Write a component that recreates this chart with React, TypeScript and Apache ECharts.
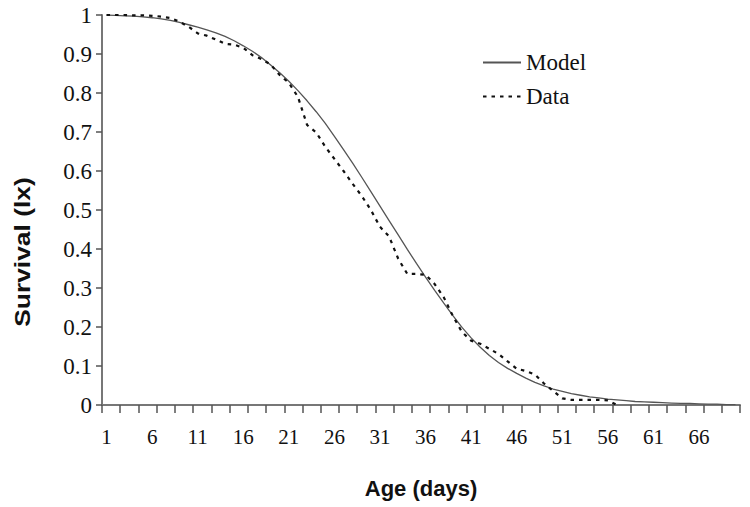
import React, { useEffect, useRef } from 'react';
import * as echarts from 'echarts';

const ages = [
  '1', '2', '3', '4', '5', '6', '7', '8', '9', '10',
  '11', '12', '13', '14', '15', '16', '17', '18', '19', '20',
  '21', '22', '23', '24', '25', '26', '27', '28', '29', '30',
  '31', '32', '33', '34', '35', '36', '37', '38', '39', '40',
  '41', '42', '43', '44', '45', '46', '47', '48', '49', '50',
  '51', '52', '53', '54', '55', '56', '57', '58', '59', '60',
  '61', '62', '63', '64', '65', '66', '67', '68', '69', '70',
];

const modelSurvival = [
  1.0, 0.999, 0.998, 0.997, 0.995, 0.993, 0.99, 0.986, 0.981, 0.975,
  0.969, 0.962, 0.954, 0.945, 0.934, 0.921, 0.907, 0.891, 0.872, 0.852,
  0.83, 0.806, 0.78, 0.752, 0.722, 0.689, 0.655, 0.62, 0.584, 0.547,
  0.51, 0.473, 0.436, 0.399, 0.363, 0.328, 0.294, 0.261, 0.229, 0.199,
  0.172, 0.148, 0.127, 0.109, 0.094, 0.081, 0.069, 0.058, 0.049, 0.041,
  0.035, 0.029, 0.025, 0.021, 0.018, 0.015, 0.013, 0.011, 0.009, 0.008,
  0.007, 0.006, 0.005, 0.004, 0.004, 0.003, 0.002, 0.002, 0.001, 0.001,
];

const dataSurvival = [
  1.0, 1.0, 1.0, 0.999, 0.999, 0.998, 0.996, 0.992, 0.983, 0.97,
  0.953, 0.947, 0.937, 0.926, 0.924, 0.916, 0.897, 0.887, 0.873, 0.846,
  0.826, 0.79, 0.718, 0.699, 0.662, 0.631, 0.6, 0.567, 0.536, 0.5,
  0.457, 0.432, 0.375, 0.336, 0.336, 0.334, 0.31, 0.276, 0.228, 0.187,
  0.165, 0.157, 0.144, 0.131, 0.112, 0.093, 0.087, 0.078, 0.055, 0.036,
  0.017, 0.013, 0.013, 0.013, 0.013, 0.012, 0.0,
];

const seriesNames = ['Model', 'Data'];

export default function App() {
  const ref = useRef<HTMLDivElement>(null);

  useEffect(() => {
    document.body.style.margin = '0';
    const chart = echarts.init(ref.current as HTMLDivElement, null, { renderer: 'svg' });
    chart.setOption({
      animation: false,
      backgroundColor: '#ffffff',
      grid: { left: 102, right: 10, top: 15, bottom: 102 },
      legend: {
        data: seriesNames,
        orient: 'vertical',
        left: 477,
        top: 46,
        itemWidth: 38,
        itemHeight: 12,
        itemGap: 11,
        itemStyle: { opacity: 0 },
        textStyle: { fontFamily: 'Liberation Serif', fontSize: 23, color: '#111' },
      },
      xAxis: {
        type: 'category',
        data: ages,
        boundaryGap: true,
        name: 'Age (days)',
        nameLocation: 'middle',
        nameGap: 72,
        nameTextStyle: {
          fontFamily: 'Liberation Sans',
          fontWeight: 'bold',
          fontSize: 22,
          color: '#111',
        },
        axisLine: { show: true, lineStyle: { color: '#777', width: 2 } },
        axisTick: {
          show: true,
          inside: false,
          alignWithLabel: false,
          interval: 1,
          length: 8,
          lineStyle: { color: '#555', width: 1.5 },
        },
        axisLabel: {
          interval: 4,
          margin: 21,
          fontFamily: 'Liberation Serif',
          fontSize: 21,
          color: '#111',
        },
        splitLine: { show: false },
      },
      yAxis: {
        type: 'value',
        min: 0,
        max: 1,
        interval: 0.1,
        axisLine: { show: true, lineStyle: { color: '#777', width: 2 } },
        axisTick: {
          show: true,
          inside: false,
          length: 6,
          lineStyle: { color: '#555', width: 1.5 },
        },
        axisLabel: {
          margin: 10,
          fontFamily: 'Liberation Serif',
          fontSize: 23,
          color: '#111',
        },
        splitLine: { show: false },
      },
      graphic: [
        {
          type: 'text',
          x: 22,
          y: 252,
          rotation: Math.PI / 2,
          scaleX: 1.2,
          style: {
            text: 'Survival (lx)',
            fontFamily: 'Liberation Sans',
            fontWeight: 'bold',
            fontSize: 22,
            fill: '#111',
            align: 'center',
            verticalAlign: 'middle',
          },
        },
      ],
      series: [
        {
          name: 'Model',
          type: 'line',
          data: modelSurvival,
          symbol: 'none',
          smooth: false,
          lineStyle: { color: '#555', width: 1.3 },
          itemStyle: { color: '#555' },
          z: 2,
        },
        {
          name: 'Data',
          type: 'line',
          data: dataSurvival,
          symbol: 'none',
          smooth: false,
          lineStyle: { color: '#111', width: 2.2, type: [3.5, 5] },
          itemStyle: { color: '#111' },
          z: 3,
        },
      ],
    });
    return () => chart.dispose();
  }, []);

  return (
    <div
      ref={ref}
      style={{ width: 750, height: 507, position: 'absolute', left: 0, top: 0 }}
    />
  );
}
